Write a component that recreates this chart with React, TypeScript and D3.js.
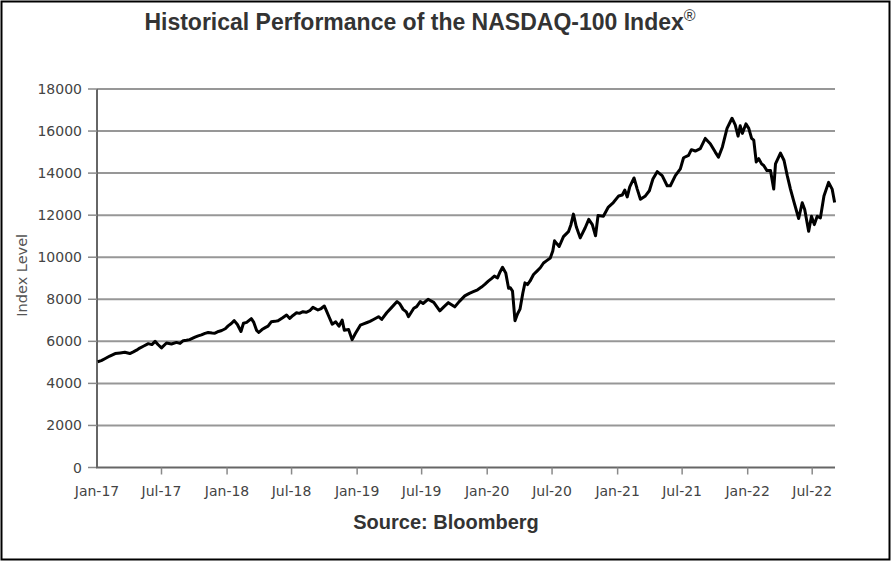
import * as React from "react"
import * as d3 from "d3"

// NASDAQ-100 index level (roughly bi-weekly)
const dates = [
  "2017-01-03", "2017-01-13", "2017-01-23", "2017-02-06", "2017-02-21", "2017-03-07", "2017-03-20", "2017-04-03",
  "2017-04-13", "2017-04-22", "2017-05-01", "2017-05-11", "2017-05-25", "2017-06-04", "2017-06-13", "2017-06-21",
  "2017-07-01", "2017-07-15", "2017-07-29", "2017-08-12", "2017-08-22", "2017-08-31", "2017-09-09", "2017-09-18",
  "2017-10-03", "2017-10-12", "2017-10-21", "2017-10-31", "2017-11-09", "2017-11-20", "2017-11-28", "2017-12-08",
  "2017-12-17", "2017-12-27", "2018-01-04", "2018-01-13", "2018-01-21", "2018-01-30", "2018-02-09", "2018-02-16",
  "2018-02-25", "2018-03-10", "2018-03-17", "2018-03-25", "2018-03-31", "2018-04-09", "2018-04-18", "2018-04-26",
  "2018-05-05", "2018-05-15", "2018-05-24", "2018-06-06", "2018-06-17", "2018-06-26", "2018-07-05", "2018-07-15",
  "2018-07-23", "2018-08-02", "2018-08-11", "2018-08-21", "2018-08-30", "2018-09-13", "2018-09-22", "2018-10-01",
  "2018-10-07", "2018-10-14", "2018-10-23", "2018-11-02", "2018-11-11", "2018-11-20", "2018-11-26", "2018-12-08",
  "2018-12-18", "2018-12-27", "2019-01-10", "2019-01-19", "2019-01-29", "2019-02-06", "2019-02-16", "2019-03-02",
  "2019-03-11", "2019-03-25", "2019-04-08", "2019-04-23", "2019-05-01", "2019-05-10", "2019-05-19", "2019-05-25",
  "2019-06-09", "2019-06-17", "2019-06-27", "2019-07-05", "2019-07-19", "2019-08-04", "2019-08-21", "2019-09-02",
  "2019-09-14", "2019-10-02", "2019-10-15", "2019-10-30", "2019-11-12", "2019-11-23", "2019-12-05", "2019-12-16",
  "2019-12-26", "2020-01-04", "2020-01-13", "2020-01-21", "2020-01-30", "2020-02-06", "2020-02-13", "2020-02-22",
  "2020-03-01", "2020-03-06", "2020-03-12", "2020-03-19", "2020-03-26", "2020-04-02", "2020-04-10", "2020-04-16",
  "2020-04-23", "2020-04-30", "2020-05-10", "2020-05-19", "2020-05-29", "2020-06-07", "2020-06-17", "2020-06-26",
  "2020-07-03", "2020-07-08", "2020-07-14", "2020-07-21", "2020-08-02", "2020-08-09", "2020-08-16", "2020-08-23",
  "2020-08-30", "2020-09-07", "2020-09-18", "2020-10-02", "2020-10-12", "2020-10-22", "2020-10-31", "2020-11-07",
  "2020-11-22", "2020-12-06", "2020-12-20", "2021-01-04", "2021-01-14", "2021-01-21", "2021-01-28", "2021-02-04",
  "2021-02-16", "2021-02-25", "2021-03-06", "2021-03-20", "2021-03-31", "2021-04-10", "2021-04-22", "2021-05-06",
  "2021-05-20", "2021-05-29", "2021-06-12", "2021-06-26", "2021-07-05", "2021-07-19", "2021-07-27", "2021-08-07",
  "2021-08-21", "2021-09-04", "2021-09-18", "2021-10-02", "2021-10-11", "2021-10-22", "2021-11-04", "2021-11-18",
  "2021-11-27", "2021-12-05", "2021-12-11", "2021-12-17", "2021-12-27", "2022-01-04", "2022-01-12", "2022-01-18",
  "2022-01-25", "2022-02-01", "2022-02-09", "2022-02-15", "2022-02-24", "2022-03-06", "2022-03-15", "2022-03-20",
  "2022-04-03", "2022-04-13", "2022-04-22", "2022-05-01", "2022-05-10", "2022-05-24", "2022-06-03", "2022-06-10",
  "2022-06-21", "2022-06-29", "2022-07-07", "2022-07-15", "2022-07-24", "2022-08-03", "2022-08-16", "2022-08-26",
  "2022-09-02",
]

const values = [
  5030, 5080, 5170, 5300, 5420, 5450, 5480, 5420,
  5500, 5580, 5680, 5765, 5890, 5845, 6000, 5850,
  5690, 5920, 5875, 5950, 5900, 6030, 6050, 6080,
  6200, 6260, 6310, 6380, 6420, 6400, 6390, 6470,
  6515, 6600, 6735, 6850, 6985, 6800, 6470, 6860,
  6900, 7080, 6900, 6520, 6420, 6560, 6650, 6720,
  6930, 6950, 6975, 7120, 7250, 7090, 7230, 7360,
  7330, 7410, 7380, 7455, 7615, 7490, 7560, 7680,
  7450, 7170, 6815, 6930, 6720, 7010, 6530, 6560,
  6080, 6370, 6770, 6830, 6895, 6950, 7040, 7170,
  7040, 7360, 7615, 7890, 7780, 7520, 7400, 7170,
  7570, 7650, 7890, 7800, 8000, 7850, 7450, 7650,
  7840, 7640, 7900, 8160, 8280, 8360, 8450, 8580,
  8720, 8860, 8980, 9100, 9020, 9300, 9520, 9255,
  8520, 8550, 8390, 6980, 7300, 7530, 8300, 8780,
  8700, 8860, 9180, 9330, 9500, 9725, 9850, 9960,
  10300, 10780, 10650, 10510, 10980, 11100, 11215, 11550,
  12050, 11450, 10920, 11400, 11800, 11550, 11020, 11980,
  11950, 12385, 12600, 12915, 12960, 13190, 12870, 13350,
  13770, 13240, 12755, 12915, 13160, 13720, 14070, 13880,
  13400, 13400, 13880, 14200, 14730, 14840, 15115, 15050,
  15160, 15650, 15400, 15000, 14760, 15245, 16130, 16610,
  16290, 15760, 16250, 15890, 16340, 16130, 15650, 15570,
  14530, 14690, 14440, 14360, 14120, 14120, 13240, 14440,
  14955, 14600, 13880, 13240, 12675, 11840, 12590, 12270,
  11230, 11950, 11550, 11950, 11870, 12915, 13560, 13240,
  12600,
]

const yTicks = [0, 2000, 4000, 6000, 8000, 10000, 12000, 14000, 16000, 18000]

const xTickLabels = [
  "Jan-17", "Jul-17", "Jan-18", "Jul-18", "Jan-19", "Jul-19",
  "Jan-20", "Jul-20", "Jan-21", "Jul-21", "Jan-22", "Jul-22",
]

const width = 891
const height = 562
const margin = { top: 89, right: 56, bottom: 94.5, left: 97 }

export default function App() {
  const svgRef = React.useRef<SVGSVGElement>(null)

  React.useEffect(() => {
    if (!svgRef.current) return
    const svg = d3.select(svgRef.current)
    svg.selectAll("*").remove()

    const parseDay = d3.timeParse("%Y-%m-%d")
    const parseTick = d3.timeParse("%b-%y")
    const data = dates.map((d, i) => ({ date: parseDay(d) as Date, value: values[i] }))
    const tickDates = xTickLabels.map((t) => parseTick(t) as Date)

    const lastDate = d3.max(data, (d) => d.date) as Date
    const x = d3
      .scaleTime()
      .domain([tickDates[0], d3.timeDay.offset(lastDate, 1)])
      .range([margin.left, width - margin.right])

    const y = d3
      .scaleLinear()
      .domain([0, 18000])
      .range([height - margin.bottom, margin.top])

    // outer frame
    svg
      .append("rect")
      .attr("x", 1.5)
      .attr("y", 1.5)
      .attr("width", width - 3)
      .attr("height", height - 4)
      .attr("fill", "#fff")
      .attr("stroke", "#000")
      .attr("stroke-width", 2)

    // title
    const title = svg
      .append("text")
      .attr("x", 420)
      .attr("y", 30)
      .attr("text-anchor", "middle")
      .style("font-family", "'Liberation Sans', Arial, sans-serif")
      .style("font-weight", "bold")
      .style("font-size", "23px")
      .style("fill", "#333")
    title.append("tspan").text("Historical Performance of the NASDAQ-100 Index")
    title
      .append("tspan")
      .attr("dy", -9)
      .style("font-size", "16px")
      .style("font-weight", "normal")
      .text("®")

    // grid lines
    svg
      .append("g")
      .selectAll("line")
      .data(yTicks.filter((t) => t > 0))
      .enter()
      .append("line")
      .attr("x1", margin.left)
      .attr("x2", width - margin.right)
      .attr("y1", (d) => y(d))
      .attr("y2", (d) => y(d))
      .attr("stroke", "#979797")
      .attr("stroke-width", 2)

    // y axis
    const yAxis = svg.append("g")
    yAxis
      .append("line")
      .attr("x1", margin.left)
      .attr("x2", margin.left)
      .attr("y1", y(0))
      .attr("y2", y(18000))
      .attr("stroke", "#666")
      .attr("stroke-width", 2)
    yAxis
      .selectAll("line.tick")
      .data(yTicks)
      .enter()
      .append("line")
      .attr("class", "tick")
      .attr("x1", margin.left - 9)
      .attr("x2", margin.left)
      .attr("y1", (d) => y(d))
      .attr("y2", (d) => y(d))
      .attr("stroke", "#8a8a8a")
      .attr("stroke-width", 1.5)
    yAxis
      .selectAll("text")
      .data(yTicks)
      .enter()
      .append("text")
      .attr("x", margin.left - 15)
      .attr("y", (d) => y(d))
      .attr("dy", "0.36em")
      .attr("text-anchor", "end")
      .style("font-family", "'DejaVu Sans', sans-serif")
      .style("font-size", "14px")
      .style("fill", "#444")
      .text((d) => String(d))

    svg
      .append("text")
      .attr("transform", `translate(27,${(y(0) + y(18000)) / 2 - 3}) rotate(-90)`)
      .attr("text-anchor", "middle")
      .style("font-family", "'DejaVu Sans', sans-serif")
      .style("font-size", "14.5px")
      .style("fill", "#555")
      .text("Index Level")

    // x axis
    const xAxis = svg.append("g")
    xAxis
      .append("line")
      .attr("x1", margin.left - 1)
      .attr("x2", width - margin.right)
      .attr("y1", y(0))
      .attr("y2", y(0))
      .attr("stroke", "#666")
      .attr("stroke-width", 2)
    xAxis
      .selectAll("line.tick")
      .data(tickDates.slice(1))
      .enter()
      .append("line")
      .attr("class", "tick")
      .attr("x1", (d) => x(d))
      .attr("x2", (d) => x(d))
      .attr("y1", y(0))
      .attr("y2", y(0) + 7)
      .attr("stroke", "#8a8a8a")
      .attr("stroke-width", 1.5)
    xAxis
      .selectAll("text")
      .data(tickDates)
      .enter()
      .append("text")
      .attr("x", (d) => x(d))
      .attr("y", y(0) + 28)
      .attr("text-anchor", "middle")
      .style("font-family", "'DejaVu Sans', sans-serif")
      .style("font-size", "14px")
      .style("fill", "#444")
      .text((_, i) => xTickLabels[i])

    // index line
    const line = d3
      .line<{ date: Date; value: number }>()
      .x((d) => x(d.date))
      .y((d) => y(d.value))
    svg
      .append("path")
      .datum(data)
      .attr("d", line)
      .attr("fill", "none")
      .attr("stroke", "#000")
      .attr("stroke-width", 3)
      .attr("stroke-linejoin", "round")

    // source
    svg
      .append("text")
      .attr("x", 446)
      .attr("y", 529)
      .attr("text-anchor", "middle")
      .style("font-family", "'Liberation Sans', Arial, sans-serif")
      .style("font-weight", "bold")
      .style("font-size", "20px")
      .style("fill", "#333")
      .text("Source: Bloomberg")

    return () => {
      svg.selectAll("*").remove()
    }
  }, [])

  return (
    <svg
      ref={svgRef}
      width={width}
      height={height}
      viewBox={`0 0 ${width} ${height}`}
      style={{ position: "absolute", left: 0, top: 0, background: "#fff" }}
    />
  )
}
